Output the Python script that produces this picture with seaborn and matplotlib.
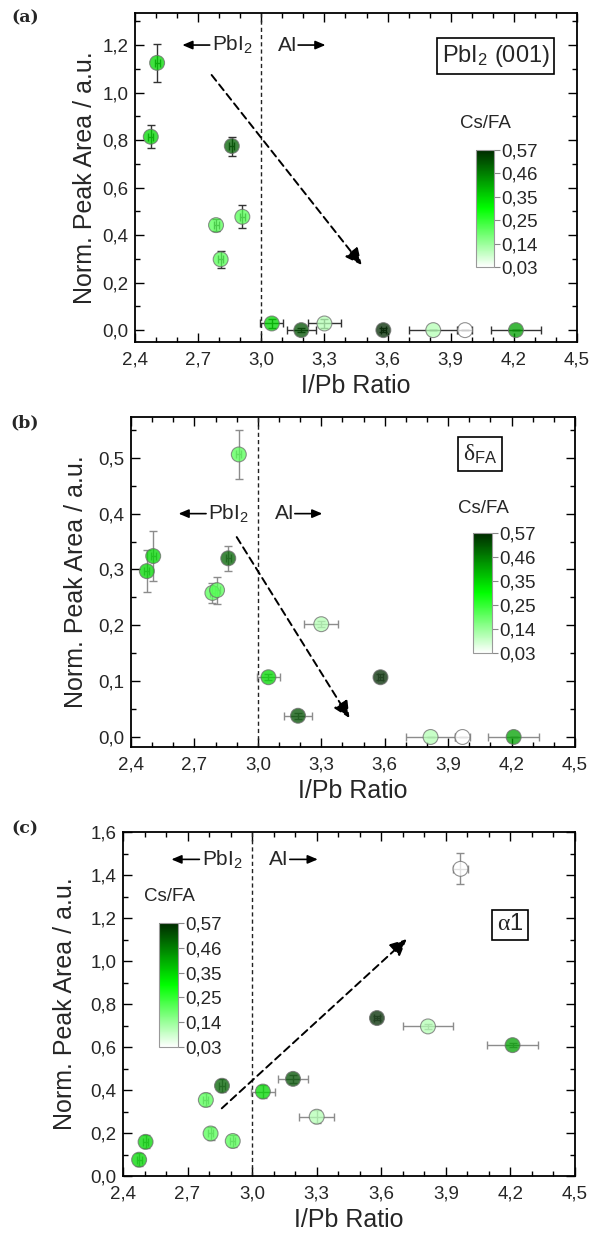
import numpy as np
import pandas as pd
import matplotlib
matplotlib.use("Agg")
import matplotlib.pyplot as plt
from matplotlib.colors import LinearSegmentedColormap, Normalize
from matplotlib.cm import ScalarMappable
from matplotlib.ticker import MultipleLocator, FuncFormatter
import seaborn as sns

# Sample composition: I/Pb ratio (with uncertainty) and Cs/FA ratio
ratio = [2.475, 2.505, 2.785, 2.807, 2.86, 2.91, 3.05, 3.19, 3.30, 3.58, 3.817, 3.968, 4.21]
ratio_err = [0.012, 0.012, 0.012, 0.012, 0.012, 0.012, 0.055, 0.068, 0.08, 0.012, 0.115, 0.035, 0.12]
cs_fa = [0.35, 0.35, 0.21, 0.21, 0.50, 0.21, 0.35, 0.52, 0.11, 0.57, 0.11, 0.03, 0.42]

# Normalised peak areas per phase
pbi2_area = [0.814, 1.125, 0.442, 0.298, 0.775, 0.477, 0.028, 0.0, 0.028, 0.0, 0.0, 0.0, 0.0]
pbi2_err = [0.048, 0.08, 0.025, 0.035, 0.04, 0.048, 0.02, 0.01, 0.02, 0.01, 0.0, 0.0, 0.0]

dfa_area = [0.297, 0.324, 0.258, 0.263, 0.32, 0.506, 0.107, 0.038, 0.202, 0.107, 0.0, 0.0, 0.0]
dfa_err = [0.037, 0.044, 0.018, 0.024, 0.022, 0.044, 0.005, 0.005, 0.005, 0.005, 0.0, 0.0, 0.0]

a1_area = [0.076, 0.159, 0.354, 0.198, 0.42, 0.163, 0.393, 0.452, 0.276, 0.735, 0.696, 1.429, 0.609]
a1_err = [0.03, 0.03, 0.03, 0.03, 0.03, 0.03, 0.03, 0.02, 0.03, 0.01, 0.01, 0.072, 0.01]

cbar_ticks = np.linspace(0.03, 0.57, 6)
cbar_labels = ["0,03", "0,14", "0,25", "0,35", "0,46", "0,57"]

sns.set_theme(style="ticks")
plt.rcParams["font.family"] = ["Liberation Sans", "DejaVu Sans"]
plt.rcParams["mathtext.fontset"] = "custom"
plt.rcParams["mathtext.rm"] = "Liberation Sans"
plt.rcParams["mathtext.it"] = "Liberation Sans:italic"
plt.rcParams["mathtext.bf"] = "Liberation Sans:bold"

cmap = LinearSegmentedColormap.from_list("csfa", ["#ffffff", "#00ff00", "#002a00"])
norm = Normalize(vmin=0.03, vmax=0.57)

df = pd.DataFrame({"ratio": ratio, "ratio_err": ratio_err, "csfa": cs_fa,
                   "pbi2": pbi2_area, "pbi2_err": pbi2_err,
                   "dfa": dfa_area, "dfa_err": dfa_err,
                   "a1": a1_area, "a1_err": a1_err})

fig = plt.figure(figsize=(5.89, 12.36), dpi=100)

comma = FuncFormatter(lambda v, p: f"{v:.1f}".replace(".", ","))

panels = [
    dict(col="pbi2", ylim=(-0.05, 1.335), major=0.2, minor=0.1,
         rect=[0.2292, 0.7233, 0.7504, 0.2662], ecolor="#333333",
         label_y=1.2, trend=((2.764, 1.074), (3.477, 0.274)),
         box=r"PbI$_2$ (001)", box_family="Liberation Sans", box_xy=(0.816, 0.869),
         cax=[0.8081, 0.7840, 0.0306, 0.0947], cs_xy=(0.825, 0.9002),
         tag="(a)", tag_y=0.9852, ylab_x=-0.086),
    dict(col="dfa", ylim=(-0.018, 0.573), major=0.1, minor=0.05,
         rect=[0.2224, 0.3956, 0.7538, 0.2670], ecolor="#8c8c8c",
         label_y=0.40, trend=((2.90, 0.358), (3.433, 0.034)),
         box="\u03b4$_{\\mathrm{FA}}$", box_family="Liberation Serif", box_xy=(0.786, 0.888),
         cax=[0.8031, 0.4717, 0.0323, 0.0971], cs_xy=(0.820, 0.5887),
         tag="(b)", tag_y=0.6575, ylab_x=-0.097),
    dict(col="a1", ylim=(0.0, 1.6), major=0.2, minor=0.1,
         rect=[0.2088, 0.0485, 0.7674, 0.2783], ecolor="#8c8c8c",
         label_y=1.473, trend=((2.859, 0.315), (3.718, 1.102)),
         box="\u03b1$\\mathrm{1}$", box_family="Liberation Serif", box_xy=(0.856, 0.7305),
         cax=[0.270, 0.1529, 0.0323, 0.1003], cs_xy=(0.2878, 0.2745),
         tag="(c)", tag_y=0.329, ylab_x=-0.102),
]

for p in panels:
    ax = fig.add_axes(p["rect"])
    col = p["col"]

    ax.errorbar(df["ratio"], df[col], xerr=df["ratio_err"], yerr=df[col + "_err"],
                fmt="none", ecolor=p["ecolor"], elinewidth=1.0, capsize=3,
                capthick=1.0, zorder=2)
    sns.scatterplot(data=df, x="ratio", y=col, hue="csfa", palette=cmap,
                    hue_norm=norm, s=115, alpha=0.75, edgecolor="#6e6e6e",
                    linewidth=0.8, legend=False, ax=ax, zorder=3)

    ax.axvline(3.0, color="#222222", lw=1.0, ls=(0, (3, 2.2)), zorder=1)

    (x0, y0), (x1, y1) = p["trend"]
    ax.annotate("", xy=(x1, y1), xytext=(x0, y0),
                arrowprops=dict(arrowstyle="-|>,head_length=0.5,head_width=0.24",
                                mutation_scale=20, color="black", lw=1.4,
                                ls=(0, (3.8, 2.4)), shrinkA=0, shrinkB=0),
                zorder=4)

    ly = p["label_y"]
    ax.text(2.765, ly, r"PbI$_2$", fontsize=15, ha="left", va="center")
    ax.annotate("", xy=(2.625, ly), xytext=(2.755, ly),
                arrowprops=dict(arrowstyle="-|>,head_length=0.4,head_width=0.17",
                                mutation_scale=15, color="black", lw=1.2,
                                shrinkA=0, shrinkB=0))
    ax.text(3.08, ly, "AI", fontsize=15, ha="left", va="center")
    ax.annotate("", xy=(3.305, ly), xytext=(3.175, ly),
                arrowprops=dict(arrowstyle="-|>,head_length=0.4,head_width=0.17",
                                mutation_scale=15, color="black", lw=1.2,
                                shrinkA=0, shrinkB=0))

    ax.text(*p["box_xy"], p["box"], transform=ax.transAxes, fontsize=17,
            family=p["box_family"], ha="center", va="center",
            bbox=dict(boxstyle="square,pad=0.2", fc="white", ec="black", lw=1.2))

    ax.set_xlim(2.4, 4.5)
    ax.set_ylim(*p["ylim"])
    ax.xaxis.set_major_locator(MultipleLocator(0.3))
    ax.xaxis.set_minor_locator(MultipleLocator(0.1))
    ax.yaxis.set_major_locator(MultipleLocator(p["major"]))
    ax.yaxis.set_minor_locator(MultipleLocator(p["minor"]))
    ax.xaxis.set_major_formatter(comma)
    ax.yaxis.set_major_formatter(comma)
    ax.tick_params(which="both", direction="in", top=True, right=True,
                   color="black", width=1.0)
    ax.tick_params(which="major", length=6.5, labelsize=13.5)
    ax.tick_params(which="minor", length=3.5)
    ax.tick_params(axis="x", which="major", pad=6.5)
    ax.tick_params(axis="y", which="major", pad=4.5)
    for s in ax.spines.values():
        s.set_linewidth(1.3)
        s.set_color("black")

    ax.set_xlabel("I/Pb Ratio", fontsize=18, labelpad=4)
    ax.set_ylabel("Norm. Peak Area / a.u.", fontsize=18)
    ax.yaxis.set_label_coords(p["ylab_x"], 0.5)

    cax = fig.add_axes(p["cax"])
    cb = fig.colorbar(ScalarMappable(norm=norm, cmap=cmap), cax=cax)
    cb.set_ticks(cbar_ticks)
    cb.set_ticklabels(cbar_labels)
    cb.outline.set_edgecolor("#999999")
    cb.outline.set_linewidth(0.8)
    cax.tick_params(length=4, width=0.8, color="#888888", direction="out",
                    labelsize=13.5, pad=1.5)
    fig.text(*p["cs_xy"], "Cs/FA", fontsize=13.5, ha="center", va="center")

    fig.text(0.0424, p["tag_y"], p["tag"], fontsize=12.5, fontweight="bold",
             family="DejaVu Serif", ha="center", va="center")

fig.savefig("out.png", dpi=100)
